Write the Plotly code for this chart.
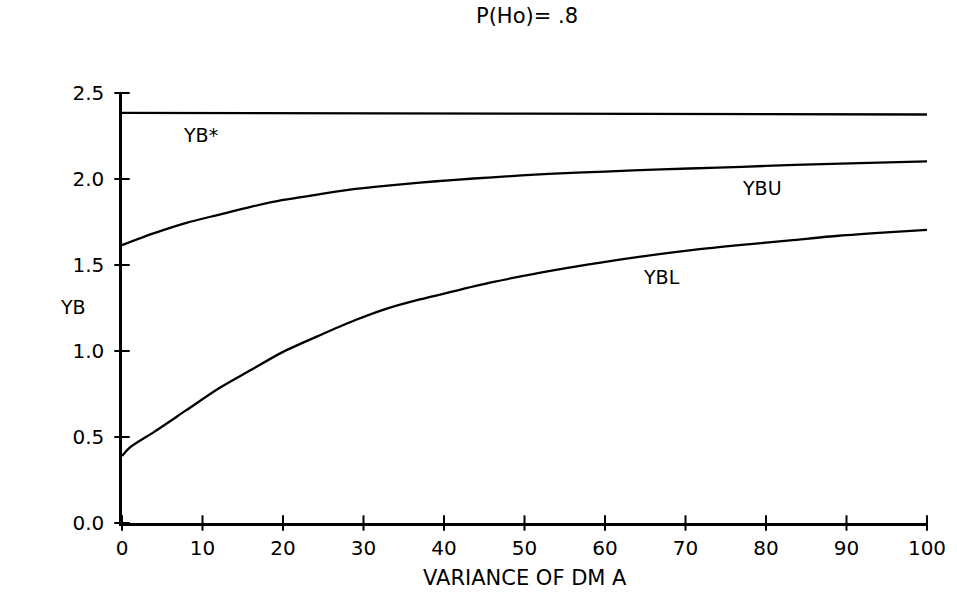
import plotly.graph_objects as go

# ---- data ----
x_star = [0, 50, 100]
yb_star = [2.385, 2.38, 2.375]

x_u = [0, 4, 8, 12, 16, 20, 25, 29, 33, 37, 41, 46, 53, 60, 67, 74, 80, 87, 94, 100]
ybu = [1.616, 1.685, 1.745, 1.792, 1.838, 1.878, 1.915, 1.942, 1.962, 1.979, 1.994,
       2.010, 2.030, 2.043, 2.056, 2.066, 2.076, 2.087, 2.095, 2.103]

x_l = [0, 1, 4, 8, 12, 16, 20, 25, 29, 33, 37, 41, 46, 52, 58, 64, 71, 77, 83, 89, 95, 100]
ybl = [0.39, 0.44, 0.53, 0.656, 0.782, 0.889, 0.995, 1.10, 1.18, 1.248, 1.30, 1.345,
       1.40, 1.455, 1.503, 1.546, 1.588, 1.617, 1.643, 1.670, 1.690, 1.704]

x_ticks = [0, 10, 20, 30, 40, 50, 60, 70, 80, 90, 100]
y_ticks = [0.0, 0.5, 1.0, 1.5, 2.0, 2.5]
y_tick_text = ["0.0", "0.5", "1.0", "1.5", "2.0", "2.5"]

title_text = "P(Ho)= .8"
x_title = "VARIANCE OF DM A"
y_title = "YB"
labels = [("YB*", 9.8, 2.257), ("YBU", 79.5, 1.949), ("YBL", 67.0, 1.428)]

FONT = "DejaVu Sans"
fig = go.Figure()
line_style = dict(color="black", width=2.3, shape="spline", smoothing=0.8)
fig.add_trace(go.Scatter(x=x_star, y=yb_star, mode="lines", line=line_style, showlegend=False))
fig.add_trace(go.Scatter(x=x_u, y=ybu, mode="lines", line=line_style, showlegend=False))
fig.add_trace(go.Scatter(x=x_l, y=ybl, mode="lines", line=line_style, showlegend=False))

# cross-shaped tick marks (straddling the axes) placed at the tick values
fig.add_trace(go.Scatter(x=x_ticks, y=[0] * len(x_ticks), mode="markers", cliponaxis=False,
                         marker=dict(symbol="line-ns", size=11, color="black",
                                     line=dict(color="black", width=2)),
                         showlegend=False, hoverinfo="skip"))
fig.add_trace(go.Scatter(x=[0] * len(y_ticks), y=y_ticks, mode="markers", cliponaxis=False,
                         marker=dict(symbol="line-ew", size=11, color="black",
                                     line=dict(color="black", width=2)),
                         showlegend=False, hoverinfo="skip"))

tickfont = dict(family=FONT, size=20, color="black")
fig.update_layout(
    width=957, height=606,
    margin=dict(l=122, r=30, t=93, b=83),
    paper_bgcolor="white", plot_bgcolor="white",
    xaxis=dict(range=[0, 100], tickvals=x_ticks, ticktext=[str(v) for v in x_ticks],
               ticks="", showline=True, linecolor="black", linewidth=2.5,
               showgrid=False, zeroline=False, tickfont=tickfont,
               ticklabelstandoff=5),
    yaxis=dict(range=[0, 2.5], tickvals=y_ticks, ticktext=y_tick_text,
               ticks="", showline=True, linecolor="black", linewidth=2.5,
               showgrid=False, zeroline=False, tickfont=tickfont,
               ticklabelstandoff=11),
    title=dict(text=title_text, x=527 / 957, xanchor="center", y=1 - 16 / 606,
               yanchor="middle", font=dict(family=FONT, size=21, color="black")),
)

fig.add_annotation(text=x_title, xref="paper", yref="paper", x=(525 - 122) / 805,
                   y=-(578 - 523) / 430, xanchor="center", yanchor="middle",
                   showarrow=False, font=dict(family=FONT, size=21, color="black"))
fig.add_annotation(text=y_title, xref="paper", yref="y", x=(73 - 122) / 805,
                   y=(522.7 - 307) / 171.76, xanchor="center", yanchor="middle",
                   showarrow=False, font=dict(family=FONT, size=19, color="black"))
for txt, lx, ly in labels:
    fig.add_annotation(text=txt, x=lx, y=ly, xref="x", yref="y", showarrow=False,
                       xanchor="center", yanchor="middle",
                       font=dict(family=FONT, size=19, color="black"))

fig.write_html("out.html")
